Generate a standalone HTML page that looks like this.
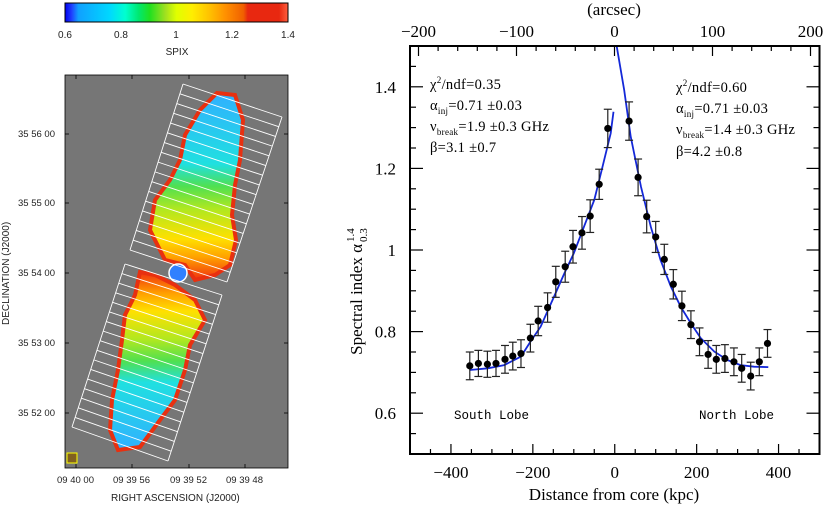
<!DOCTYPE html>
<html><head><meta charset="utf-8">
<style>
html,body{margin:0;padding:0;background:#fff;width:826px;height:505px;overflow:hidden}
svg{display:block}
.s{font-family:"Liberation Sans",sans-serif}
.r{font-family:"Liberation Serif",serif}
.m{font-family:"Liberation Mono",monospace}
</style></head><body>
<svg id="root" width="826" height="505" viewBox="0 0 826 505">
<defs>
<linearGradient id="cbar" x1="0" x2="1" y1="0" y2="0">
<stop offset="0" stop-color="#0000f0"/><stop offset="0.03" stop-color="#2040ff"/>
<stop offset="0.06" stop-color="#10a0ff"/><stop offset="0.2" stop-color="#00d8ff"/>
<stop offset="0.27" stop-color="#00ffd0"/><stop offset="0.33" stop-color="#00e870"/>
<stop offset="0.38" stop-color="#20e020"/><stop offset="0.45" stop-color="#a0e020"/>
<stop offset="0.5" stop-color="#e0ff00"/><stop offset="0.57" stop-color="#ffee00"/>
<stop offset="0.65" stop-color="#ffc000"/><stop offset="0.72" stop-color="#ff9000"/>
<stop offset="0.8" stop-color="#f06000"/><stop offset="0.82" stop-color="#e82810"/>
<stop offset="0.96" stop-color="#e82810"/><stop offset="1" stop-color="#ff6040"/>
</linearGradient>
<linearGradient id="ngrad" x1="0" y1="1" x2="0" y2="0">
<stop offset="0" stop-color="#f03010"/><stop offset="0.12" stop-color="#ffa000"/><stop offset="0.22" stop-color="#ffe000"/>
<stop offset="0.38" stop-color="#b0e820"/><stop offset="0.5" stop-color="#50e050"/>
<stop offset="0.62" stop-color="#20e0e0"/><stop offset="1" stop-color="#30b0ff"/>
</linearGradient>
<linearGradient id="sgrad" x1="0" y1="0" x2="0" y2="1">
<stop offset="0" stop-color="#f03010"/><stop offset="0.12" stop-color="#ffa000"/><stop offset="0.22" stop-color="#ffe000"/>
<stop offset="0.38" stop-color="#b0e820"/><stop offset="0.5" stop-color="#50e050"/>
<stop offset="0.62" stop-color="#20e0e0"/><stop offset="1" stop-color="#30b0ff"/>
</linearGradient>
</defs>

<g>
<rect x="65" y="3" width="223" height="19" fill="url(#cbar)" stroke="#000" stroke-width="1"/>
<g class="s" font-size="10" fill="#222" text-anchor="middle">
<text x="65" y="38">0.6</text><text x="121" y="38">0.8</text><text x="176" y="38">1</text>
<text x="232" y="38">1.2</text><text x="288" y="38">1.4</text>
<text x="177" y="55">SPIX</text>
</g></g>

<g>
<rect x="65" y="75" width="223" height="393" fill="#767676" stroke="#000" stroke-width="0.8"/>
<polygon fill="url(#ngrad)" stroke="#e83010" stroke-width="4"
 points="217,93 235,95 243,120 240,160 235,185 232,215 236,240 230,265 215,275 195,280 185,265 165,260 150,230 155,200 170,180 180,160 185,135 200,110"/>
<polygon fill="url(#sgrad)" stroke="#e83010" stroke-width="4"
 points="140,272 155,275 175,285 195,300 205,320 190,345 185,370 175,400 160,420 140,447 118,450 110,430 112,400 118,370 122,340 125,315 135,295"/>
<circle cx="178" cy="273" r="9" fill="#3080ff" stroke="#fff" stroke-width="1.5"/>
<g id="grids" fill="none" stroke="#fff" stroke-width="0.9"></g>
<rect x="67" y="453" width="10" height="10" fill="#806020" stroke="#ff0"/>
<g class="s" font-size="9.5" fill="#222">
<text x="18" y="137">35 56 00</text><text x="18" y="206">35 55 00</text>
<text x="18" y="276">35 54 00</text><text x="18" y="346">35 53 00</text>
<text x="18" y="416">35 52 00</text>
<text x="57" y="483">09 40 00</text><text x="113" y="483">09 39 56</text>
<text x="170" y="483">09 39 52</text><text x="226" y="483">09 39 48</text>
<text x="111" y="501" font-size="10">RIGHT ASCENSION  (J2000)</text>
<text transform="translate(9,325) rotate(-90)" font-size="10">DECLINATION  (J2000)</text>
</g>
<g stroke="#000" stroke-width="0.8">
<line x1="65" y1="134" x2="69" y2="134"/><line x1="65" y1="203" x2="69" y2="203"/><line x1="65" y1="273" x2="69" y2="273"/><line x1="65" y1="343" x2="69" y2="343"/><line x1="65" y1="413" x2="69" y2="413"/>
<line x1="284" y1="134" x2="288" y2="134"/><line x1="284" y1="203" x2="288" y2="203"/><line x1="284" y1="273" x2="288" y2="273"/><line x1="284" y1="343" x2="288" y2="343"/><line x1="284" y1="413" x2="288" y2="413"/>
<line x1="76" y1="468" x2="76" y2="464"/><line x1="132" y1="468" x2="132" y2="464"/><line x1="189" y1="468" x2="189" y2="464"/><line x1="245" y1="468" x2="245" y2="464"/>
<line x1="76" y1="75" x2="76" y2="79"/><line x1="132" y1="75" x2="132" y2="79"/><line x1="189" y1="75" x2="189" y2="79"/><line x1="245" y1="75" x2="245" y2="79"/>
</g>
</g>

<g id="chart">
<g id="marks"></g>
<g id="axes" stroke="#000" fill="none"></g>
<g id="labels" class="r" font-size="17" fill="#000"></g>
<text class="r" font-size="17" x="614" y="15" text-anchor="middle">(arcsec)</text>
<text class="r" font-size="17" x="614" y="500" text-anchor="middle">Distance from core (kpc)</text>
<g transform="translate(362,250) rotate(-90)">
<text class="r" font-size="17" x="6" y="0" text-anchor="end">Spectral index α</text>
<text class="r" font-size="11" x="8" y="-8">1.4</text>
<text class="r" font-size="11" x="8" y="5">0.3</text>
</g>
<g class="r" font-size="14.5" letter-spacing="0.3">
<text x="430" y="89">χ<tspan font-size="9" dy="-6">2</tspan><tspan dy="6">/ndf=0.35</tspan></text>
<text x="430" y="110">α<tspan font-size="9" dy="4">inj</tspan><tspan dy="-4">=0.71  ±0.03</tspan></text>
<text x="430" y="131">ν<tspan font-size="9" dy="4">break</tspan><tspan dy="-4">=1.9  ±0.3  GHz</tspan></text>
<text x="430" y="152">β=3.1  ±0.7</text>
</g>
<g class="r" font-size="14.5" letter-spacing="0.3">
<text x="676" y="92">χ<tspan font-size="9" dy="-6">2</tspan><tspan dy="6">/ndf=0.60</tspan></text>
<text x="676" y="113">α<tspan font-size="9" dy="4">inj</tspan><tspan dy="-4">=0.71  ±0.03</tspan></text>
<text x="676" y="134">ν<tspan font-size="9" dy="4">break</tspan><tspan dy="-4">=1.4  ±0.3  GHz</tspan></text>
<text x="676" y="156">β=4.2  ±0.8</text>
</g>
<text class="m" font-size="12.5" x="454" y="419">South Lobe</text>
<text class="m" font-size="12.5" x="699" y="419">North Lobe</text>
</g>
</svg>
<script>
const southX=[-354,-333,-311,-290,-268,-249,-229,-206,-187,-164,-144,-121,-102,-80,-60,-38,-17];
const southV=[0.716,0.722,0.72,0.722,0.732,0.74,0.746,0.784,0.826,0.859,0.922,0.959,1.008,1.042,1.083,1.161,1.298];
const southErr=[0.034,0.032,0.032,0.032,0.034,0.034,0.034,0.034,0.036,0.036,0.038,0.038,0.04,0.04,0.04,0.037,0.047];
const northX=[35,57,78,100,121,143,164,186,207,228,248,269,291,310,332,353,373];
const northV=[1.316,1.178,1.082,1.032,0.977,0.916,0.863,0.817,0.775,0.744,0.732,0.734,0.726,0.71,0.691,0.726,0.771];
const northErr=[0.047,0.045,0.04,0.038,0.037,0.036,0.036,0.034,0.034,0.034,0.034,0.034,0.034,0.034,0.034,0.034,0.034];
const southFitX=[-354,-310,-270,-229,-206,-181,-148,-123,-100,-75,-50,-30,-10,-3];
const southFitV=[0.706,0.710,0.718,0.739,0.775,0.812,0.886,0.943,0.992,1.057,1.123,1.204,1.286,1.339];
const northFitX=[5,23,39,64,88,112,137,161,186,210,243,276,307,340,375];
const northFitV=[1.498,1.392,1.278,1.155,1.057,0.975,0.910,0.861,0.820,0.784,0.751,0.730,0.718,0.714,0.713];
const xTicks=[-400,-200,0,200,400];
const yTicks=[0.6,0.8,1,1.2,1.4];
const topTicks=[-200,-100,0,100,200];

const NS='http://www.w3.org/2000/svg';
const L=410,R=819.5,T=46,B=454;
const xs=v=>L+(v+500)/1000*(R-L);
const ys=v=>B-(v-0.5)/1.0*(B-T);
const xa=a=>614.5+a*0.98;
function mk(tag,attrs,parent){const e=document.createElementNS(NS,tag);for(const k in attrs)e.setAttribute(k,attrs[k]);parent.appendChild(e);return e;}

const axes=document.getElementById('axes');
const frame=mk('rect',{x:L,y:T,width:R-L,height:B-T,'stroke-width':2},axes);


for(let v=-500;v<=500;v+=50){const maj=v%200===0;const len=maj?10:5;const x=xs(v);
 mk('line',{x1:x,y1:B,x2:x,y2:B-len,'stroke-width':1.2},axes);}
for(let a=-200;a<=200;a+=20){const x=xa(a);if(x<L||x>R)continue;const len=a%100===0?10:5;
 mk('line',{x1:x,y1:T,x2:x,y2:T+len,'stroke-width':1.2},axes);}
for(let i=0;i<=20;i++){const v=0.5+i*0.05;const y=ys(v);const maj=(i%4===2);const len=maj?13:6;
 mk('line',{x1:L,y1:y,x2:L+len,y2:y,'stroke-width':1.2},axes);
 mk('line',{x1:R,y1:y,x2:R-len,y2:y,'stroke-width':1.2},axes);}
const labels=document.getElementById('labels');
xTicks.forEach(v=>{const t=mk('text',{x:xs(v),y:478,'text-anchor':'middle'},labels);t.textContent=v<0?'\u2212'+(-v):v;
 
 });
topTicks.forEach(v=>{const t=mk('text',{x:xa(v),y:37,'text-anchor':'middle'},labels);t.textContent=v<0?'\u2212'+(-v):v;
 
 });
yTicks.forEach(v=>{const t=mk('text',{x:396,y:ys(v)+6,'text-anchor':'end'},labels);t.textContent=v;
 
 });

const marks=document.getElementById('marks');
function curve(xsA,vsA,name){const d=xsA.map((x,i)=>(i?'L':'M')+xs(x).toFixed(1)+' '+ys(vsA[i]).toFixed(1)).join(' ');
 const p=mk('path',{d:d,fill:'none',stroke:'#1428d8','stroke-width':1.8},marks);
 
 }
curve(southFitX,southFitV,'south-fit-curve');
curve(northFitX,northFitV,'north-fit-curve');
function points(xA,vA,eA,name){xA.forEach((x,i)=>{const g=mk('g',{},marks);
 
 
 const cx=xs(x),y1=ys(vA[i]+eA[i]),y2=ys(vA[i]-eA[i]);
 mk('line',{x1:cx,y1:y1,x2:cx,y2:y2,stroke:'#222','stroke-width':1.2},g);
 mk('line',{x1:cx-4,y1:y1,x2:cx+4,y2:y1,stroke:'#222','stroke-width':1.2},g);
 mk('line',{x1:cx-4,y1:y2,x2:cx+4,y2:y2,stroke:'#222','stroke-width':1.2},g);
 mk('circle',{cx:cx,cy:ys(vA[i]),r:3.6,fill:'#000'},g);});}
points(southX,southV,southErr,'south-point');
points(northX,northV,northErr,'north-point');

const grids=document.getElementById('grids');
function grid(tl,tr,bl,br,n){for(let i=0;i<=n;i++){const f=i/n;
 mk('line',{x1:tl[0]+(bl[0]-tl[0])*f,y1:tl[1]+(bl[1]-tl[1])*f,x2:tr[0]+(br[0]-tr[0])*f,y2:tr[1]+(br[1]-tr[1])*f},grids);}
 mk('line',{x1:tl[0],y1:tl[1],x2:bl[0],y2:bl[1]},grids);
 mk('line',{x1:tr[0],y1:tr[1],x2:br[0],y2:br[1]},grids);}
grid([183,84],[282,117],[130,250],[227,282],17);
grid([125,264],[222,295],[72,427],[168,461],17);
</script>
</body></html>
